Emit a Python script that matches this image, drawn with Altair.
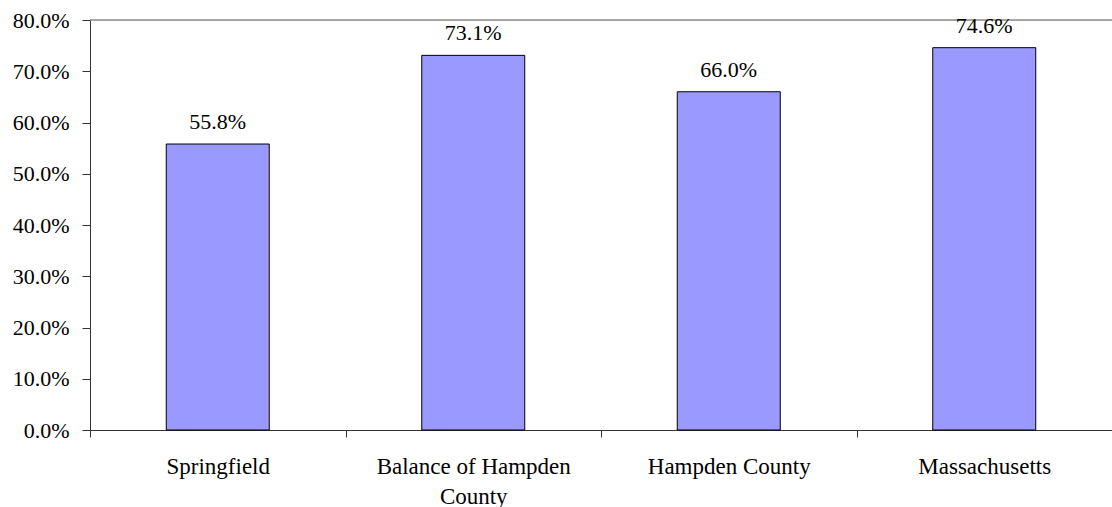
import altair as alt
import pandas as pd

categories = ["Springfield", "Balance of Hampden County", "Hampden County", "Massachusetts"]
values = [0.558, 0.731, 0.660, 0.746]
top_line = [0.8]

df = pd.DataFrame({"cat": categories, "val": values})
FONT = "Liberation Serif"

x = alt.X("cat:N", sort=categories, title=None,
          scale=alt.Scale(paddingInner=0, paddingOuter=0),
          axis=alt.Axis(labelAngle=0, tickBand="extent", tickSize=7, labelPadding=18,
                        labelFont=FONT, labelFontSize=23, labelColor="black",
                        domainColor="#333", tickColor="#333",
                        labelLineHeight=30, labelLimit=400,
                        labelExpr="datum.label == 'Balance of Hampden County' ? ['Balance of Hampden', 'County'] : datum.label"))
y = alt.Y("val:Q", title=None,
          scale=alt.Scale(domain=[0, 0.8], nice=False),
          axis=alt.Axis(format=".1%", values=[i / 10 for i in range(9)], tickSize=8, labelPadding=13,
                        labelFont=FONT, labelFontSize=22, labelColor="black",
                        domainColor="#333", tickColor="#333", grid=False))

base = alt.Chart(df)
bars = base.mark_bar(size=103, color="#9999FF", stroke="black", strokeWidth=1).encode(x=x, y=y)
labels = base.mark_text(font=FONT, fontSize=22, color="black", baseline="alphabetic", dy=-15).encode(
    x=alt.X("cat:N", sort=categories), y="val:Q", text=alt.Text("val:Q", format=".1%"))
rule = alt.Chart(pd.DataFrame({"y": top_line})).mark_rule(color="#8c8c8c", strokeWidth=1.5).encode(y="y:Q")

chart = alt.layer(bars, rule, labels).properties(
    width=1022, height=410,
    autosize=alt.AutoSizeParams(type="none"),
    padding={"left": 90, "top": 20, "right": 0, "bottom": 77},
).configure_view(stroke=None).configure(background="white")

chart.save("out.html", embed_options={"renderer": "svg", "actions": False})
